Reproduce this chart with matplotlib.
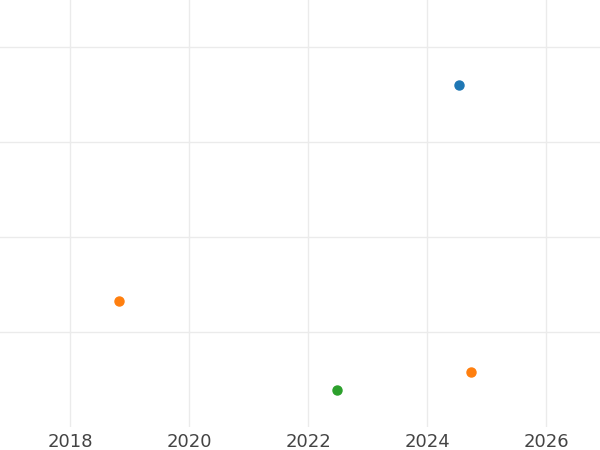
import matplotlib
matplotlib.use("Agg")
import matplotlib.pyplot as plt

# points (y has no labels, arbitrary units)
blue_x = [2024.53]
blue_y = [3.60]
orange_x = [2018.82, 2024.74]
orange_y = [1.33, 0.58]
green_x = [2022.49]
green_y = [0.39]

xticks = [2018, 2020, 2022, 2024, 2026]
yticks = [1, 2, 3, 4]

fig = plt.figure(figsize=(6, 4.5), dpi=100)
ax = fig.add_axes([0, 1 - 427 / 450, 1, 427 / 450])

ax.plot(blue_x, blue_y, 'o', color='#1f77b4', ms=6.5, zorder=3)
ax.plot(orange_x, orange_y, 'o', color='#ff7f0e', ms=6.5, zorder=3)
ax.plot(green_x, green_y, 'o', color='#2ca02c', ms=6.5, zorder=3)

ax.set_xlim(2016.824, 2026.907)
ax.set_ylim(0, 4.495)
ax.set_xticks(xticks)
ax.set_yticks(yticks)
ax.set_yticklabels([])
ax.grid(True, color='#ebebeb', lw=1.0)
ax.set_axisbelow(True)
ax.tick_params(length=0, labelsize=13, labelcolor='#444444', pad=4.5)
for s in ax.spines.values():
    s.set_visible(False)

fig.savefig("out.png", dpi=100)
